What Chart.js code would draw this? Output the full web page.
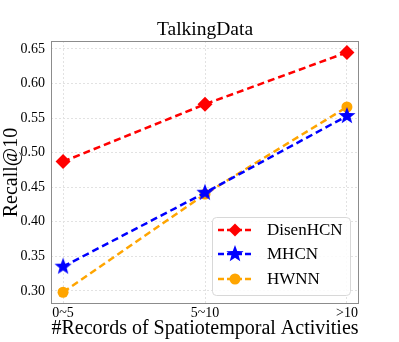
<!DOCTYPE html>
<html>
<head>
<meta charset="utf-8">
<script src="https://cdn.jsdelivr.net/npm/chart.js@4.4.0/dist/chart.umd.min.js"></script>
<style>
  html, body { margin: 0; padding: 0; background: #fff; }
  #wrap { width: 399px; height: 342px; }
</style>
</head>
<body>
<div id="wrap"><canvas id="chart" width="399" height="342"></canvas></div>
<script>
const categories = ['0~5', '5~10', '>10'];
const disenHCN = [0.487, 0.570, 0.645];
const mhcn = [0.335, 0.442, 0.553];
const hwnn = [0.298, 0.440, 0.566];
const yTicks = [0.30, 0.35, 0.40, 0.45, 0.50, 0.55, 0.60, 0.65];

const serif = '"Liberation Serif", "Times New Roman", serif';

// filled five point star, chart.js 'star' is only an outline
function makeStar(r, color) {
    const c = document.createElement('canvas');
    c.width = c.height = r * 2 + 2;
    const g = c.getContext('2d');
    const cx = r + 1, cy = r + 1;
    g.beginPath();
    for (let i = 0; i < 10; i++) {
        const rad = i % 2 === 0 ? r : r * 0.42;
        const a = -Math.PI / 2 + i * Math.PI / 5;
        g.lineTo(cx + rad * Math.cos(a), cy + rad * Math.sin(a));
    }
    g.closePath();
    g.fillStyle = color;
    g.fill();
    return c;
}
const starImg = makeStar(9, '#0000ff');

function toPoints(arr) {
    return arr.map((v, i) => ({ x: i, y: v }));
}

const series = [
    { label: 'DisenHCN', data: disenHCN, color: '#ff0000', style: 'rectRot', radius: 7.5 },
    { label: 'MHCN', data: mhcn, color: '#0000ff', style: starImg, radius: 9 },
    { label: 'HWNN', data: hwnn, color: '#ffa500', style: 'circle', radius: 5.5 }
];

const frame = {
    id: 'frame',
    beforeDatasetsDraw(chart) {
        const { ctx, chartArea: a } = chart;
        ctx.save();
        ctx.strokeStyle = '#8c8c8c';
        ctx.lineWidth = 1;
        ctx.strokeRect(a.left + 0.5, a.top + 0.5, a.right - a.left - 1, a.bottom - a.top - 1);
        ctx.restore();
    },
    afterDraw(chart) {
        const { ctx, chartArea: a } = chart;
        const mid = (a.left + a.right) / 2;
        ctx.save();
        ctx.fillStyle = '#000';
        ctx.textAlign = 'center';
        // title
        ctx.font = '19.5px ' + serif;
        ctx.textBaseline = 'middle';
        ctx.fillText('TalkingData', mid, 30);
        // x axis title
        ctx.font = '20px ' + serif;
        ctx.textBaseline = 'alphabetic';
        ctx.fillText('#Records of Spatiotemporal Activities', mid, 334);

        // legend box
        const bx = 212, by = 217, bw = 138, bh = 78;
        ctx.beginPath();
        ctx.roundRect(bx + 0.5, by + 0.5, bw, bh, 4);
        ctx.fillStyle = 'rgba(255,255,255,0.85)';
        ctx.fill();
        ctx.strokeStyle = '#d8d8d8';
        ctx.stroke();

        ctx.textBaseline = 'middle';
        const rows = [230, 254, 279];
        series.forEach((s, i) => {
            const y = rows[i];
            ctx.beginPath();
            ctx.setLineDash([6, 3]);
            ctx.lineWidth = 2.5;
            ctx.strokeStyle = s.color;
            ctx.moveTo(218, y);
            ctx.lineTo(253, y);
            ctx.stroke();
            ctx.setLineDash([]);
            ctx.fillStyle = s.color;
            if (s.style === 'rectRot') {
                const r = 6.5;
                ctx.beginPath();
                ctx.moveTo(235, y - r); ctx.lineTo(235 + r, y);
                ctx.lineTo(235, y + r); ctx.lineTo(235 - r, y);
                ctx.closePath(); ctx.fill();
            } else if (s.style === 'circle') {
                ctx.beginPath();
                ctx.arc(235, y, 5.5, 0, Math.PI * 2);
                ctx.fill();
            } else {
                ctx.drawImage(s.style, 235 - s.style.width / 2, y - s.style.height / 2);
            }
            ctx.fillStyle = '#000';
            ctx.font = '17px ' + serif;
            ctx.textAlign = 'left';
            ctx.fillText(s.label, 267, y + 1);
        });
        ctx.restore();
    }
};

new Chart(document.getElementById('chart'), {
    type: 'line',
    data: {
        datasets: series.map(s => ({
            label: s.label,
            data: toPoints(s.data),
            borderColor: s.color,
            backgroundColor: s.color,
            borderWidth: 2.5,
            borderDash: [7, 4],
            pointStyle: s.style,
            pointRadius: s.radius,
            pointHoverRadius: s.radius,
            pointBorderWidth: 0,
            tension: 0
        }))
    },
    options: {
        responsive: false,
        animation: false,
        layout: { padding: { top: 41, right: 40, left: 0, bottom: 0 } },
        plugins: {
            legend: { display: false },
            title: { display: false },
            tooltip: { enabled: false }
        },
        scales: {
            x: {
                type: 'linear',
                min: -0.085,
                max: 2.085,
                afterBuildTicks(scale) {
                    scale.ticks = categories.map((c, i) => ({ value: i }));
                },
                afterFit(scale) { scale.height = 38; },
                ticks: {
                    callback: (v) => categories[v],
                    color: '#000',
                    font: { family: serif, size: 14 },
                    padding: 1,
                    maxRotation: 0
                },
                grid: { color: '#e2e2e2', drawTicks: false },
                border: { display: false, dash: [2, 2] },
                title: { display: false }
            },
            y: {
                min: 0.281,
                max: 0.6615,
                afterBuildTicks(scale) {
                    scale.ticks = yTicks.map(v => ({ value: v }));
                },
                afterFit(scale) { scale.width = 51; },
                ticks: {
                    callback: (v) => v.toFixed(2),
                    color: '#000',
                    font: { family: serif, size: 14 },
                    padding: 6
                },
                grid: { color: '#e2e2e2', drawTicks: false },
                border: { display: false, dash: [2, 2] },
                title: {
                    display: true,
                    text: 'Recall@10',
                    color: '#000',
                    font: { family: serif, size: 20 },
                    padding: { top: 0, bottom: 0 }
                }
            }
        }
    },
    plugins: [frame]
});
</script>
</body>
</html>
